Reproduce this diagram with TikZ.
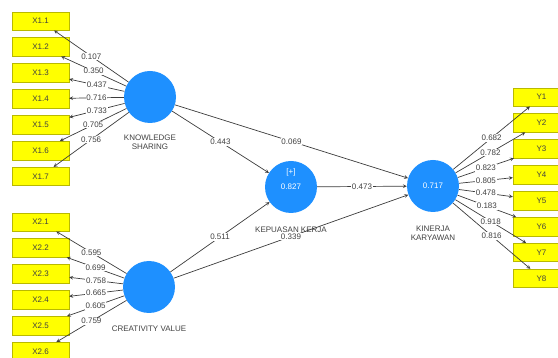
\documentclass[tikz,border=0pt]{standalone}
\usepackage{fontspec}
\setmainfont{Liberation Sans}
\usetikzlibrary{positioning, arrows}

\definecolor{plsblue}{RGB}{30,144,255}
\definecolor{indyellow}{RGB}{255,255,0}
\definecolor{indborder}{RGB}{185,185,0}
\definecolor{pathgray}{RGB}{60,60,60}
\definecolor{txtgray}{RGB}{65,65,65}

\begin{document}
\begin{tikzpicture}[
    x=1pt, y=-1pt,
    ->, >=stealth, node distance=25.9pt,
    every node/.style={font=\fontsize{8}{9.5}\selectfont, text=txtgray},
    latent/.style={circle, fill=plsblue, minimum size=52pt, inner sep=0pt, text=white, align=center},
    indicator/.style={rectangle, draw=indborder, fill=indyellow, minimum width=57pt, minimum height=18.5pt, inner sep=0pt},
    coef/.style={fill=white, inner sep=0.8pt},
    every edge/.style={draw=pathgray, line width=0.7pt}
]
    \useasboundingbox (0,0) rectangle (558,358);
    \clip (0,0) rectangle (558,358);

    % Latent variables
    \node[latent, label={[align=center, label distance=8pt]below:KNOWLEDGE\\SHARING}] (KS) at (150,97) {};
    \node[latent, label={[label distance=9pt]below:CREATIVITY VALUE}] (CV) at (149,287) {};
    \node[latent, label={[label distance=10pt]below:KEPUASAN KERJA},
          label={[label distance=-19pt, text=white]above:{[+]}}] (KK) at (291,187) {0.827};
    \node[latent, label={[align=center, label distance=10pt]below:KINERJA\\KARYAWAN}] (KIN) at (433,186) {0.717};

    % Indicators: Knowledge Sharing
    \node[indicator] (X11) at (40.5,21) {X1.1};
    \node[indicator, below of=X11] (X12) {X1.2};
    \node[indicator, below of=X12] (X13) {X1.3};
    \node[indicator, below of=X13] (X14) {X1.4};
    \node[indicator, below of=X14] (X15) {X1.5};
    \node[indicator, below of=X15] (X16) {X1.6};
    \node[indicator, below of=X16] (X17) {X1.7};

    % Indicators: Creativity Value
    \node[indicator] (X21) at (40.5,222) {X2.1};
    \node[indicator, below of=X21] (X22) {X2.2};
    \node[indicator, below of=X22] (X23) {X2.3};
    \node[indicator, below of=X23] (X24) {X2.4};
    \node[indicator, below of=X24] (X25) {X2.5};
    \node[indicator, below of=X25] (X26) {X2.6};

    % Indicators: Kinerja Karyawan
    \node[indicator] (Y1) at (541.5,97) {Y1};
    \node[indicator, below of=Y1] (Y2) {Y2};
    \node[indicator, below of=Y2] (Y3) {Y3};
    \node[indicator, below of=Y3] (Y4) {Y4};
    \node[indicator, below of=Y4] (Y5) {Y5};
    \node[indicator, below of=Y5] (Y6) {Y6};
    \node[indicator, below of=Y6] (Y7) {Y7};
    \node[indicator, below of=Y7] (Y8) {Y8};

    % Outer loadings
    \path (KS) edge node[coef] {0.107} (X11)
          (KS) edge node[coef] {0.350} (X12)
          (KS) edge node[coef] {0.437} (X13)
          (KS) edge node[coef] {0.716} (X14)
          (KS) edge node[coef] {0.733} (X15)
          (KS) edge node[coef] {0.705} (X16)
          (KS) edge node[coef] {0.756} (X17);

    \path (CV) edge node[coef] {0.595} (X21)
          (CV) edge node[coef] {0.699} (X22)
          (CV) edge node[coef] {0.758} (X23)
          (CV) edge node[coef] {0.665} (X24)
          (CV) edge node[coef] {0.605} (X25)
          (CV) edge node[coef] {0.759} (X26);

    \path (KIN) edge node[coef] {0.682} (Y1)
          (KIN) edge node[coef] {0.782} (Y2)
          (KIN) edge node[coef] {0.823} (Y3)
          (KIN) edge node[coef] {0.805} (Y4)
          (KIN) edge node[coef] {0.478} (Y5)
          (KIN) edge node[coef] {0.183} (Y6)
          (KIN) edge node[coef] {0.918} (Y7)
          (KIN) edge node[coef] {0.816} (Y8);

    % Path coefficients
    \path (KS) edge node[coef] {0.443} (KK)
          (KS) edge node[coef] {0.069} (KIN)
          (CV) edge node[coef] {0.511} (KK)
          (CV) edge node[coef] {0.339} (KIN)
          (KK) edge node[coef] {0.473} (KIN);

\end{tikzpicture}
\end{document}
